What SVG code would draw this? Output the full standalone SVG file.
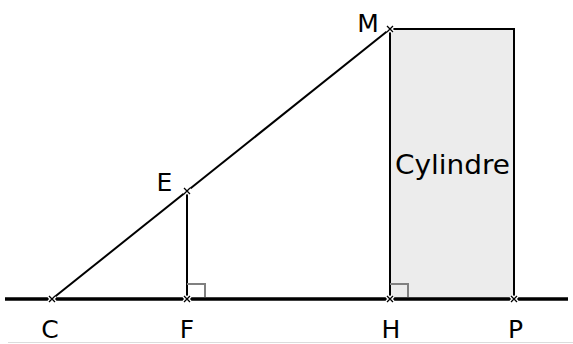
<svg xmlns="http://www.w3.org/2000/svg" width="573" height="344" viewBox="0 0 573 344">
<style>
.lbl{font-family:"DejaVu Sans","Liberation Sans",sans-serif;font-size:25px;fill:#000}
.big{font-size:27px}
.seg{stroke:#000;stroke-width:2;fill:none}
.ang{stroke:#808080;stroke-width:2;fill:none}
</style>
<defs>
<g id="pt">
<path d="M-3,-3L3,3M-3,3L3,-3" stroke="#fff" stroke-width="4"/>
<path d="M-3,-3L3,3M-3,3L3,-3" stroke="#000" stroke-width="1.3"/>
</g>
</defs>
<rect width="573" height="344" fill="#fff"/>
<line x1="8" y1="342.5" x2="573" y2="342.5" stroke="#dcdcdc" stroke-width="1"/>
<g id="cylindre">
<rect x="390" y="29" width="124" height="270" fill="#ececec" stroke="#000" stroke-width="2"/>
<text class="lbl big" x="395" y="174" textLength="115" lengthAdjust="spacingAndGlyphs">Cylindre</text>
</g>
<g id="connectors">
<line x1="5" y1="299" x2="568" y2="299" stroke="#000" stroke-width="3.5"/>
<line class="seg" x1="52" y1="299" x2="390" y2="29"/>
<line class="seg" x1="187" y1="191" x2="187" y2="299"/>
<path class="ang" d="M187,284H205V297"/>
<path class="ang" d="M390,284H408V297"/>
</g>
<g id="C"><use href="#pt" x="52" y="299"/><text class="lbl" x="50" y="338" text-anchor="middle">C</text></g>
<g id="F"><use href="#pt" x="187" y="299"/><text class="lbl" x="187" y="338" text-anchor="middle">F</text></g>
<g id="H"><use href="#pt" x="390" y="299"/><text class="lbl" x="391" y="338" text-anchor="middle">H</text></g>
<g id="P"><use href="#pt" x="514" y="299"/><text class="lbl" x="515.5" y="338" text-anchor="middle">P</text></g>
<g id="E"><use href="#pt" x="187" y="191"/><text class="lbl" x="164.5" y="191" text-anchor="middle">E</text></g>
<g id="M"><use href="#pt" x="390" y="29"/><text class="lbl" x="368" y="32" text-anchor="middle">M</text></g>
</svg>
